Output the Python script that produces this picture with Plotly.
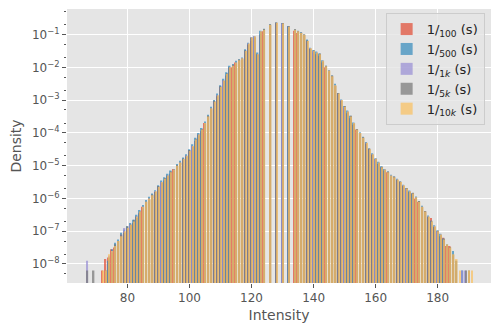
import plotly.graph_objects as go

# intensity bins (integer grey levels)
intensity = list(range(66, 192))

# log10(density), one value per intensity, None = empty bin
N = None
log_d_100 = [
    N, N, N, N, N, N, -8.2, -7.85, -7.8, -7.55,
    -7.5, -7.3, -7.2, -7.0, -6.95, -6.8, -6.75, -6.55, -6.45, -6.25,
    -6.15, -6.0, -5.95, -5.8, -5.7, -5.5, -5.45, -5.3, -5.25, -5.1,
    -5.05, -4.9, -4.85, -4.7, -4.6, -4.4, -4.25, -4.05, -3.95, -3.7,
    -3.55, -3.25, -3.1, -2.85, -2.65, -2.4, -2.25, -2.0, -2.0, -1.85,
    -1.85, -1.72, -1.6, -1.3, -1.2, -1.1, -1.6, -1.0, -0.9, N,
    -0.72, N, -0.66, N, -0.66, N, -0.75, N, -0.88, -0.95,
    -1.0, -1.05, -1.25, -1.45, -1.55, -1.6, -1.65, -1.85, -2.0, -2.15,
    -2.3, -2.6, -2.85, -3.05, -3.25, -3.4, -3.55, -3.75, -3.9, -4.05,
    -4.2, -4.35, -4.5, -4.7, -4.8, -4.95, -5.05, -5.15, -5.2, -5.35,
    -5.35, -5.45, -5.5, -5.65, -5.7, -5.8, -5.85, -6.0, -6.1, -6.3,
    -6.4, -6.6, -6.6, -6.9, -7.0, -7.15, -7.2, -7.45, -7.45, -7.75,
    -8.2, N, N, N, N, N,
]
log_d_500 = [
    N, N, N, N, N, N, N, N, -7.9, -7.55,
    -7.35, -7.25, -7.05, -6.95, -6.85, -6.75, -6.65, -6.5, -6.35, -6.2,
    -6.05, -5.95, -5.85, -5.75, -5.6, -5.45, -5.35, -5.25, -5.15, -5.1,
    -4.95, -4.85, -4.75, -4.65, -4.5, -4.35, -4.15, -4.0, -3.85, -3.65,
    -3.45, -3.2, -3.0, -2.8, -2.55, -2.35, -2.15, -1.95, -1.9, -1.8,
    -1.75, -1.7, -1.45, -1.25, -3.0, -1.05, -1.55, -0.88, -0.82, N,
    -0.68, N, -0.63, N, -0.65, N, -0.74, N, -0.84, -0.88,
    -0.93, -0.98, -1.15, -1.4, -1.48, -1.52, -1.58, -1.78, -1.95, -2.08,
    -2.25, -2.5, -2.78, -2.98, -3.18, -3.32, -3.48, -3.68, -3.88, -3.98,
    -4.12, -4.28, -4.48, -4.62, -4.78, -4.88, -5.02, -5.1, -5.18, -5.28,
    -5.33, -5.4, -5.48, -5.58, -5.68, -5.76, -5.84, -5.94, -6.08, -6.22,
    -6.38, -6.52, -6.68, -6.82, -6.98, -7.08, -7.22, -7.4, -7.6, -7.6,
    -7.9, N, -8.2, N, N, N,
]
log_d_1k = [
    N, -7.9, N, N, N, N, N, N, -7.75, -7.6,
    -7.5, -7.3, -7.1, -6.9, -6.9, -6.8, -6.7, -6.55, -6.4, -6.25,
    -6.1, -6.0, -5.9, -5.78, -5.65, -5.5, -5.4, -5.3, -5.2, -5.12,
    -5.0, -4.9, -4.8, -4.7, -4.55, -4.4, -4.2, -4.05, -3.9, -3.7,
    -3.5, -3.25, -3.05, -2.85, -2.6, -2.4, -2.2, -2.0, -1.95, -1.85,
    -1.78, -1.72, -1.5, -1.27, -1.1, -1.05, -1.6, -0.9, -0.85, N,
    -0.7, N, -0.64, N, -0.66, N, -0.76, N, -0.85, -0.9,
    -0.95, -1.0, -1.2, -1.42, -1.5, -1.55, -1.6, -1.8, -1.97, -2.1,
    -2.27, -2.55, -2.8, -3.0, -3.2, -3.35, -3.5, -3.7, -3.9, -4.0,
    -4.15, -4.3, -4.5, -4.65, -4.8, -4.9, -5.05, -5.12, -5.2, -5.3,
    -5.35, -5.42, -5.5, -5.6, -5.7, -5.78, -5.85, -5.96, -6.1, -6.25,
    -6.4, -6.55, -6.7, -6.85, -7.0, -7.1, -7.25, -7.5, -7.6, -7.85,
    N, N, -8.2, -8.2, N, N,
]
log_d_5k = [
    N, -8.2, N, -8.2, N, N, N, -8.2, -7.8, -7.65,
    -7.4, -7.3, -7.1, -7.05, -6.85, -6.8, -6.65, -6.6, -6.4, -6.3,
    -6.1, -6.05, -5.88, -5.8, -5.62, -5.52, -5.38, -5.32, -5.18, -5.15,
    -4.98, -4.92, -4.78, -4.72, -4.52, -4.42, -4.18, -4.08, -3.88, -3.72,
    -3.48, -3.28, -3.02, -2.88, -2.58, -2.42, -2.18, -2.02, -1.92, -1.88,
    -1.76, -1.75, -1.48, -1.3, -1.08, -1.08, -1.62, -0.92, -0.83, N,
    -0.69, N, -0.63, N, -0.65, N, -0.75, N, -0.84, -0.91,
    -0.94, -1.01, -1.18, -1.44, -1.48, -1.57, -1.58, -1.82, -1.95, -2.12,
    -2.25, -2.57, -2.78, -3.02, -3.18, -3.37, -3.48, -3.72, -3.88, -4.02,
    -4.13, -4.32, -4.48, -4.67, -4.78, -4.92, -5.03, -5.14, -5.18, -5.32,
    -5.33, -5.44, -5.48, -5.62, -5.68, -5.8, -5.83, -5.98, -6.08, -6.27,
    -6.38, -6.57, -6.68, -6.87, -6.98, -7.12, -7.23, -7.42, -7.48, -7.72,
    -7.9, N, N, -8.2, -8.2, N,
]
log_d_10k = [
    N, N, N, N, N, N, -8.2, -8.2, -7.7, -7.6,
    -7.45, -7.3, -7.15, -7.0, -6.9, -6.8, -6.7, -6.55, -6.4, -6.25,
    -6.1, -6.0, -5.9, -5.78, -5.65, -5.5, -5.4, -5.3, -5.2, -5.12,
    -5.0, -4.9, -4.8, -4.7, -4.55, -4.4, -4.2, -4.05, -3.9, -3.7,
    -3.5, -3.25, -3.05, -2.85, -2.6, -2.4, -2.2, -2.0, -1.95, -1.85,
    -1.78, -1.72, -1.5, -1.27, -1.1, -1.05, -1.6, -0.9, -0.85, N,
    -0.7, N, -0.64, N, -0.66, N, -0.76, N, -0.85, -0.9,
    -0.95, -1.0, -1.2, -1.42, -1.5, -1.55, -1.6, -1.8, -1.97, -2.1,
    -2.27, -2.55, -2.8, -3.0, -3.2, -3.35, -3.5, -3.7, -3.9, -4.0,
    -4.15, -4.3, -4.5, -4.65, -4.8, -4.9, -5.05, -5.12, -5.2, -5.3,
    -5.35, -5.42, -5.5, -5.6, -5.7, -5.78, -5.85, -5.96, -6.1, -6.25,
    -6.4, -6.55, -6.7, -6.85, -7.0, -7.1, -7.25, -7.4, -7.5, -7.7,
    -7.85, -8.2, N, N, -8.2, -8.2,
]

labels = [
    "1/<sub>100</sub> (s)",
    "1/<sub>500</sub> (s)",
    "1/<sub>1<i>k</i></sub> (s)",
    "1/<sub>5<i>k</i></sub> (s)",
    "1/<sub>10<i>k</i></sub> (s)",
]
colors = ["#E24A33", "#348ABD", "#988ED5", "#777777", "#FBC15E"]
series = [log_d_100, log_d_500, log_d_1k, log_d_5k, log_d_10k]
offsets = [-0.35, -0.3, -0.22, -0.18, -0.1]

fig = go.Figure()
for lab, col, vals, off in zip(labels, colors, series, offsets):
    xs = [x for x, v in zip(intensity, vals) if v is not None]
    ys = [10 ** v for v in vals if v is not None]
    fig.add_trace(go.Bar(
        x=xs, y=ys, name=lab,
        marker=dict(color=col, line_width=0),
        opacity=0.7, width=0.5, offset=off,
    ))

dec = [-8, -7, -6, -5, -4, -3, -2, -1]
# the page body adds an 8px margin, so the margins below are shifted by 8px
fig.update_layout(
    width=500, height=333,
    barmode="overlay",
    paper_bgcolor="white",
    plot_bgcolor="#E5E5E5",
    margin=dict(l=59, r=17, t=1, b=58),
    font=dict(family="DejaVu Sans", color="#555555", size=12),
    legend=dict(
        x=0.985, y=0.985, xanchor="right", yanchor="top",
        bgcolor="rgba(229,229,229,0.8)", bordercolor="#CCCCCC", borderwidth=1,
        font=dict(size=13, color="#222222"),
        tracegroupgap=0,
    ),
    xaxis=dict(
        range=[60.5, 197.2],
        tickvals=[80, 100, 120, 140, 160, 180],
        showgrid=True, gridcolor="white", gridwidth=1,
        ticks="outside", ticklen=4, tickcolor="#555555",
        zeroline=False, automargin=False,
        title=dict(text="Intensity", font=dict(size=14, color="#555555"), standoff=5),
    ),
    yaxis=dict(
        type="log",
        range=[-8.58, -0.22],
        tickvals=[10 ** d for d in dec],
        ticktext=["10<sup>\u2212%d</sup>" % (-d) for d in dec],
        showgrid=True, gridcolor="white", gridwidth=1,
        ticks="outside", ticklen=4, tickcolor="#555555",
        minor=dict(ticks="outside", ticklen=2, tickcolor="#555555", showgrid=False),
        zeroline=False, automargin=False,
        title=dict(text="Density", font=dict(size=14, color="#555555")),
    ),
)

fig.write_html("out.html")
